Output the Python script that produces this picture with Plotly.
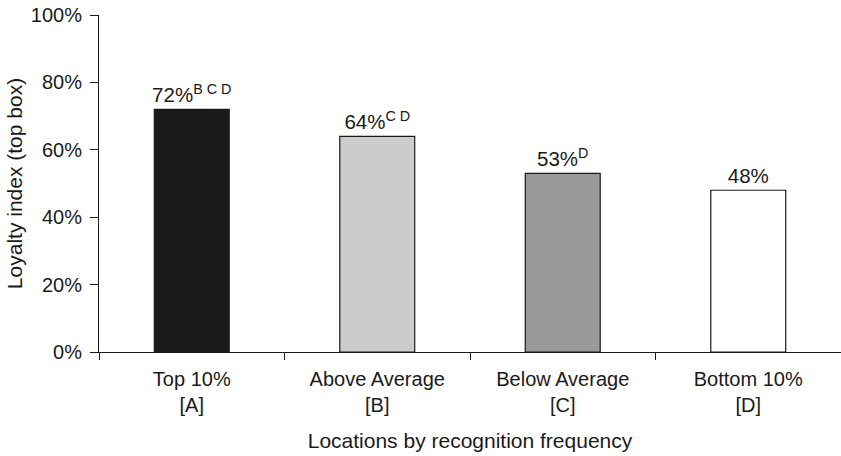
import plotly.graph_objects as go

categories = ["Top 10%<br>[A]", "Above Average<br>[B]", "Below Average<br>[C]", "Bottom 10%<br>[D]"]
values = [72, 64, 53, 48]
sig_letters = ["B C D", "C D", "D", ""]
colors = ["#1a1a1a", "#cccccc", "#999999", "#ffffff"]
y_ticks = [0, 20, 40, 60, 80, 100]

labels = [f"{v}%<sup>{s}</sup>" if s else f"{v}%" for v, s in zip(values, sig_letters)]

fig = go.Figure(go.Bar(
    x=categories, y=values,
    marker=dict(color=colors, line=dict(color="#1a1a1a", width=1.2)),
    text=labels, textposition="outside", cliponaxis=False, constraintext="none",
    textfont=dict(size=20.5, color="#1a1a1a"),
))

fig.update_layout(
    width=841, height=456,
    margin=dict(l=99, r=0, t=15, b=104),
    paper_bgcolor="white", plot_bgcolor="white",
    font=dict(family="Liberation Sans, Arial, sans-serif", size=20, color="#1a1a1a"),
    bargap=0.596, showlegend=False,
)
fig.update_xaxes(
    showline=True, linecolor="#1a1a1a", linewidth=1,
    ticks="outside", tickson="boundaries", ticklen=7, tickcolor="#1a1a1a",
    ticklabelstandoff=9,
    title=dict(text="Locations by recognition frequency", font=dict(size=21), standoff=18),
    tickfont=dict(size=20),
)
fig.update_yaxes(
    range=[0, 100], tickvals=y_ticks, ticktext=[f"{t}%" for t in y_ticks],
    showline=True, linecolor="#1a1a1a", linewidth=1,
    ticks="outside", ticklen=8, tickcolor="#1a1a1a",
    ticklabelstandoff=4, ticklabeloverflow="allow",
    showgrid=False, zeroline=False,
    title=dict(text="Loyalty index (top box)", font=dict(size=21), standoff=2),
    tickfont=dict(size=20),
)

fig.write_html("out.html", config={"displayModeBar": False},
               post_script="document.body.style.margin='0';")
